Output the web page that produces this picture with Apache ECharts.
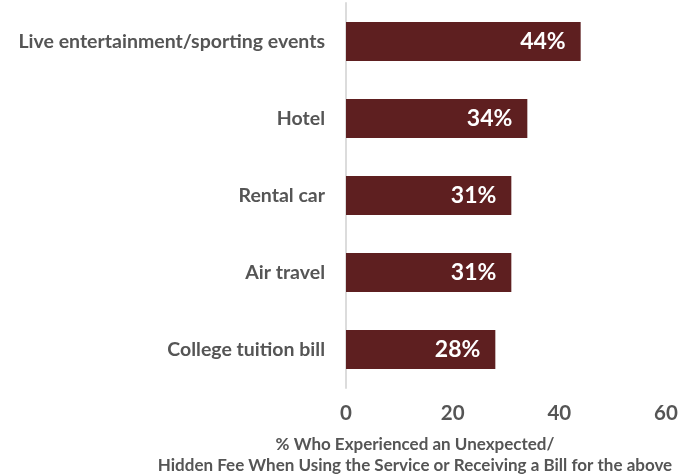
<!DOCTYPE html>
<html>
<head>
<meta charset="utf-8">
<script src="https://cdn.jsdelivr.net/npm/echarts@6/dist/echarts.min.js"></script>
<style>
  html, body { margin: 0; padding: 0; background: #fff; }
  #chart { width: 695px; height: 476px; }
</style>
</head>
<body>
<div id="chart"></div>
<script>
// Services where respondents met an unexpected / hidden fee
const categories = [
  'Live entertainment/sporting events',
  'Hotel',
  'Rental car',
  'Air travel',
  'College tuition bill'
];
const shares = [44, 34, 31, 31, 28];
const axisTitleLines = [
  '% Who Experienced an Unexpected/',
  'Hidden Fee When Using the Service or Receiving a Bill for the above'
];

const FONT = 'Lato, "Open Sans", sans-serif';
const TEXT = '#555555';
const BAR = '#5e1f20';

const chart = echarts.init(document.getElementById('chart'), null, { renderer: 'canvas' });

chart.setOption({
  animation: false,
  grid: { left: 346, right: 29, top: 3, bottom: 88, containLabel: false },
  xAxis: {
    type: 'value',
    min: 0,
    max: 60,
    interval: 20,
    axisLine: { show: false },
    axisTick: { show: false },
    splitLine: { show: false },
    axisLabel: {
      color: TEXT,
      fontFamily: FONT,
      fontWeight: 'bold',
      fontSize: 20.5,
      margin: 15
    }
  },
  yAxis: {
    type: 'category',
    inverse: true,
    data: categories,
    axisLine: { show: true, lineStyle: { color: '#dcdcdc', width: 2 } },
    axisTick: { show: false },
    axisLabel: {
      color: TEXT,
      fontFamily: FONT,
      fontWeight: 'bold',
      fontSize: 19.5,
      margin: 21
    }
  },
  series: [{
    type: 'bar',
    data: shares,
    barWidth: 39,
    itemStyle: { color: BAR },
    label: {
      show: true,
      position: 'insideRight',
      distance: 15,
      formatter: p => p.value + '%',
      color: '#ffffff',
      fontFamily: FONT,
      fontWeight: 'bold',
      fontSize: 23
    }
  }],
  graphic: axisTitleLines.map((line, i) => ({
    type: 'text',
    x: 415,
    y: 445 + i * 21,
    style: {
      text: line,
      align: 'center',
      verticalAlign: 'middle',
      fill: TEXT,
      font: 'bold 17px ' + FONT
    }
  }))
});
</script>
</body>
</html>
